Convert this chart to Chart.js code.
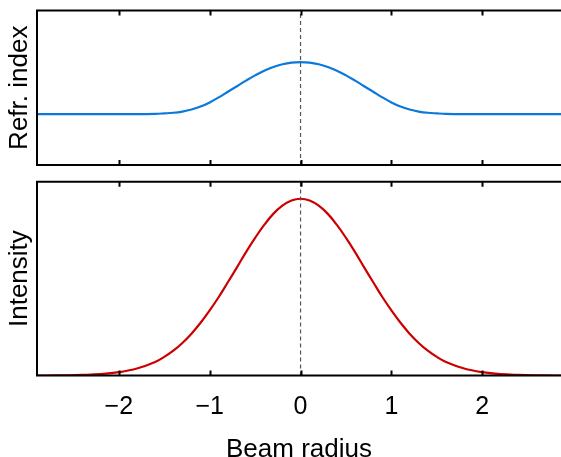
<!DOCTYPE html>
<html>
<head>
<meta charset="utf-8">
<script src="https://cdn.jsdelivr.net/npm/chart.js@4.4.0/dist/chart.umd.min.js"></script>
<style>
  html, body { margin: 0; padding: 0; background: #fff; overflow: hidden; width: 561px; height: 457px; }
  .panel { position: absolute; left: 0; width: 561px; }
  #top { top: 0; height: 172px; }
  #bot { top: 172px; height: 300px; }
</style>
</head>
<body>
<div class="panel" id="top"><canvas id="refrChart"></canvas></div>
<div class="panel" id="bot"><canvas id="intChart"></canvas></div>
<script>
// data (y in panel fractions)
const X_POS = [-2.9, -2.8, -2.6, -2.4, -2.2, -2.0, -1.8, -1.6, -1.5, -1.4, -1.3, -1.2, -1.1, -1.0, -0.9, -0.8,
               -0.7, -0.6, -0.5, -0.4, -0.3, -0.2, -0.1, 0, 0.1, 0.2, 0.3, 0.4, 0.5, 0.6, 0.7,
               0.8, 0.9, 1.0, 1.1, 1.2, 1.3, 1.4, 1.5, 1.6, 1.8, 2.0, 2.2, 2.4, 2.6, 2.8, 2.9];
const REFR  = [0.329, 0.329, 0.329, 0.329, 0.329, 0.329, 0.329, 0.331, 0.334, 0.338, 0.346, 0.359, 0.378, 0.405, 0.438, 0.474,
               0.510, 0.546, 0.580, 0.610, 0.634, 0.652, 0.663, 0.666, 0.663, 0.652, 0.634, 0.610, 0.580, 0.546, 0.510,
               0.474, 0.438, 0.405, 0.378, 0.359, 0.346, 0.338, 0.334, 0.331, 0.329, 0.329, 0.329, 0.329, 0.329, 0.329, 0.329];
const INTEN = [0.000, 0.000, 0.001, 0.003, 0.007, 0.017, 0.036, 0.070, 0.096, 0.128, 0.168, 0.216, 0.272, 0.336, 0.405, 0.481,
               0.558, 0.637, 0.710, 0.777, 0.834, 0.876, 0.903, 0.912, 0.903, 0.876, 0.834, 0.777, 0.710, 0.637, 0.558,
               0.481, 0.405, 0.336, 0.272, 0.216, 0.168, 0.128, 0.096, 0.070, 0.036, 0.017, 0.007, 0.003, 0.001, 0.000, 0.000];
const TICKS = [-2, -1, 0, 1, 2];
const CENTER = 0;
const X_MIN = -2.9, X_MAX = 2.866;

const FONT = "'Liberation Sans', Arial, sans-serif";
const BLUE = '#0b78dc';
const RED  = '#cc0000';

Chart.defaults.font.family = FONT;
Chart.defaults.color = '#000';

const pts = ys => X_POS.map((x, i) => ({ x, y: ys[i] }));
const fmt = v => v < 0 ? '\u2212' + Math.abs(v) : String(v);

// frame: left/top/bottom border and inward tick marks
const frame = {
  id: 'frame',
  afterDatasetsDraw(chart) {
    const { ctx, chartArea: a, scales: { x } } = chart;
    ctx.save();
    ctx.strokeStyle = '#000';
    ctx.lineWidth = 2;
    ctx.beginPath();
    ctx.moveTo(a.right + 2, a.top);
    ctx.lineTo(a.left, a.top);
    ctx.lineTo(a.left, a.bottom);
    ctx.lineTo(a.right + 2, a.bottom);
    TICKS.forEach(v => {
      const px = Math.round(x.getPixelForValue(v)) + 0.5;
      ctx.moveTo(px, a.top); ctx.lineTo(px, a.top + 5);
      ctx.moveTo(px, a.bottom); ctx.lineTo(px, a.bottom - 5);
    });
    ctx.stroke();
    ctx.restore();
  }
};

const centerLine = {
  data: [{ x: CENTER, y: 0 }, { x: CENTER, y: 1 }],
  borderColor: '#555', borderWidth: 1.2, borderDash: [4, 3], pointRadius: 0
};

function yAxis(title) {
  return {
    min: 0, max: 1,
    ticks: { display: false },
    grid: { display: false },
    border: { display: false },
    title: { display: true, text: title, font: { size: 26, lineHeight: 1 }, padding: { top: 6.5, bottom: 0 } },
    afterFit: s => { s.width = 37; }
  };
}

// ── top: refractive index ──
new Chart(document.getElementById('refrChart'), {
  type: 'line',
  data: {
    datasets: [
      centerLine,
      { data: pts(REFR), borderColor: BLUE, borderWidth: 2.2, pointRadius: 0, tension: 0.4 }
    ]
  },
  options: {
    responsive: true, maintainAspectRatio: false, animation: false,
    layout: { padding: { top: 10.5, left: 0, right: 0, bottom: 0 } },
    plugins: { legend: { display: false }, tooltip: { enabled: false } },
    scales: {
      x: {
        type: 'linear', min: X_MIN, max: X_MAX,
        ticks: { display: false }, grid: { display: false }, border: { display: false },
        afterFit: s => { s.height = 7; }
      },
      y: yAxis('Refr. index')
    }
  },
  plugins: [frame]
});

// ── bottom: intensity ──
new Chart(document.getElementById('intChart'), {
  type: 'line',
  data: {
    datasets: [
      centerLine,
      { data: pts(INTEN), borderColor: RED, borderWidth: 2.2, pointRadius: 0, tension: 0.4 }
    ]
  },
  options: {
    responsive: true, maintainAspectRatio: false, animation: false,
    layout: { padding: { top: 9.7, left: 0, right: 0, bottom: 0 } },
    plugins: { legend: { display: false }, tooltip: { enabled: false } },
    scales: {
      x: {
        type: 'linear', min: X_MIN, max: X_MAX,
        afterBuildTicks: s => { s.ticks = TICKS.map(v => ({ value: v })); },
        ticks: { font: { size: 25 }, padding: 17, autoSkip: false, maxRotation: 0, callback: fmt },
        grid: { display: false, drawTicks: false }, border: { display: false },
        title: { display: true, text: 'Beam radius', font: { size: 26, lineHeight: 1 }, padding: { top: 0, bottom: 9 } },
        afterFit: s => { s.height = 96.5; }
      },
      y: yAxis('Intensity')
    }
  },
  plugins: [frame]
});
</script>
</body>
</html>
